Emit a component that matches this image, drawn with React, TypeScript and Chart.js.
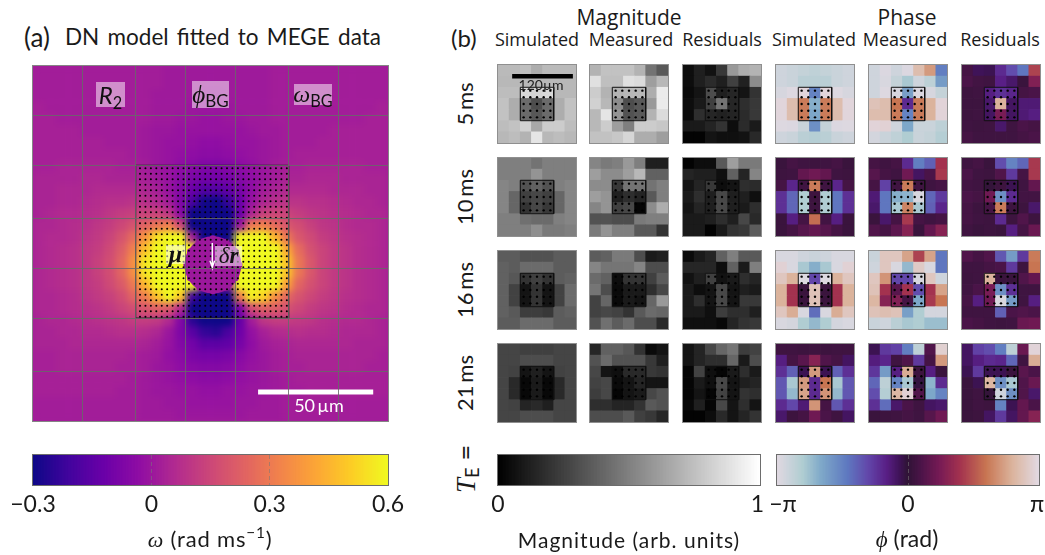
import React, { useEffect, useRef } from "react";
import { Chart, registerables } from "chart.js";

Chart.register(...registerables);

// ---------- colour maps ----------
const plasmaStops = ["#0d0887", "#41049d", "#6a00a8", "#8f0da4", "#b12a90", "#cc4778", "#e16462", "#f2844b", "#fca636", "#fcce25", "#f0f921"];
const phaseStops: [number, string][] = [
  [0, "#e2d9e2"], [0.1, "#b0cdd2"], [0.17, "#7fa9c9"], [0.27, "#5f79c0"], [0.35, "#6247aa"], [0.42, "#591f86"],
  [0.47, "#3f1358"], [0.5, "#2f1436"], [0.55, "#4a1448"], [0.62, "#751a55"], [0.7, "#a3324f"], [0.8, "#c87552"], [0.9, "#dbb39c"], [1, "#e2d9e2"],
];
const hex = (h: string) => [parseInt(h.slice(1, 3), 16), parseInt(h.slice(3, 5), 16), parseInt(h.slice(5, 7), 16)];
const mix = (a: string, b: string, f: number) => {
  const A = hex(a), B = hex(b);
  return `rgb(${A.map((c, i) => Math.round(c + (B[i] - c) * f)).join(",")})`;
};
const plasma = (v: number) => {
  const t = Math.max(0, Math.min(1, (v + 0.3) / 0.9)) * 10;
  const i = Math.min(9, Math.floor(t));
  return mix(plasmaStops[i], plasmaStops[i + 1], t - i);
};
const phaseColor = (v: number) => {
  const t = Math.max(0, Math.min(1, (v + 100) / 200));
  for (let i = 0; i < phaseStops.length - 1; i++) {
    if (t <= phaseStops[i + 1][0]) return mix(phaseStops[i][1], phaseStops[i + 1][1], (t - phaseStops[i][0]) / (phaseStops[i + 1][0] - phaseStops[i][0]));
  }
  return phaseStops[13][1];
};
const greyColor = (v: number) => { const g = Math.round(v * 2.55); return `rgb(${g},${g},${g})`; };
const omegaColor = (v: number) => plasma(v / 100);

// ---------- panel (a): omega field, in hundredths of rad/ms ----------
const omegaField = [
  [2,2,2,2,2,2,2,2,2,2,2,1,1,1,1,1,1,1,1,1,2,2,2,2,2,2,2,2,2,2],
  [2,2,2,2,2,2,2,2,2,2,2,1,1,1,1,1,1,1,1,1,2,2,2,2,2,2,2,2,2,2],
  [2,2,2,2,2,2,2,2,2,2,1,1,1,1,0,0,1,1,1,1,2,2,2,2,2,2,2,2,2,2],
  [3,2,2,2,2,2,2,2,2,2,1,1,1,0,0,0,0,1,1,1,2,2,2,2,2,2,2,2,2,3],
  [3,3,2,2,2,2,2,2,2,2,1,1,0,0,-1,-1,0,0,1,1,2,2,2,2,2,2,2,2,3,3],
  [3,3,3,3,2,2,2,2,2,1,0,0,-1,-1,-1,-1,-1,-1,0,1,1,2,2,2,2,3,3,3,3,3],
  [3,3,3,3,3,3,2,2,2,1,0,-1,-1,-2,-3,-3,-2,-1,-1,0,1,2,2,2,3,3,3,3,3,3],
  [3,3,3,3,3,3,3,3,2,1,0,-1,-2,-3,-4,-4,-3,-2,-1,0,1,2,3,3,3,3,3,3,3,3],
  [3,3,4,4,4,4,4,3,3,2,0,-1,-3,-5,-7,-7,-6,-4,-2,0,2,3,3,4,4,4,4,4,3,3],
  [4,4,4,4,5,5,4,4,4,3,1,-1,-5,-8,-10,-10,-9,-6,-3,0,2,4,4,5,5,5,4,4,4,4],
  [4,4,5,5,5,6,6,6,6,5,3,-1,-6,-12,-17,-17,-14,-9,-3,2,4,6,6,6,6,5,5,5,4,4],
  [4,4,5,5,6,7,8,8,9,8,6,2,-7,-19,-29,-30,-23,-12,-1,5,8,9,9,8,8,7,6,5,5,4],
  [4,5,6,6,7,8,10,12,13,14,14,10,-4,-30,-30,-30,-30,-12,5,13,15,14,12,10,9,8,7,6,5,5],
  [5,5,6,7,8,10,12,15,19,24,29,32,16,-30,-30,-30,-30,0,30,32,26,20,17,13,10,9,7,6,6,5],
  [5,6,6,7,9,11,14,19,26,38,55,60,60,2,-30,-30,-30,60,60,60,45,29,20,16,12,10,8,7,6,5],
  [5,6,7,8,10,12,16,22,32,48,60,60,60,60,2,2,2,60,60,60,60,42,26,18,14,11,9,7,6,5],
  [5,6,7,8,10,13,17,24,36,56,60,60,60,60,2,2,2,60,60,60,60,48,29,20,14,11,9,7,6,5],
  [5,6,7,8,10,13,17,24,36,56,60,60,60,60,2,2,2,60,60,60,60,48,29,20,14,11,9,7,6,5],
  [5,6,7,8,10,12,16,21,30,46,60,60,60,60,2,2,2,60,60,60,60,40,24,18,14,11,9,7,6,5],
  [5,5,6,7,9,11,13,17,24,32,48,60,50,-21,-30,-30,-30,32,58,52,36,25,19,15,12,10,8,7,6,5],
  [5,5,6,7,8,9,11,14,17,20,23,21,6,-30,-30,-30,-30,-8,17,23,22,18,15,12,10,9,7,6,5,5],
  [4,5,5,6,7,8,9,10,12,12,11,6,-6,-25,-30,-30,-30,-13,2,10,12,12,11,10,8,7,6,6,5,4],
  [4,4,5,5,6,6,7,8,8,7,5,0,-7,-16,-23,-25,-19,-11,-2,3,6,7,8,7,7,6,5,5,5,4],
  [4,4,4,5,5,5,5,5,5,4,2,-1,-6,-10,-15,-15,-14,-9,-3,1,3,4,5,5,5,5,5,4,4,4],
  [3,3,4,4,4,4,4,4,3,2,1,-2,-4,-8,-9,-9,-8,-5,-2,0,2,3,4,4,4,4,4,4,4,3],
  [3,3,4,4,4,4,4,3,3,2,0,-1,-3,-5,-6,-6,-5,-3,-1,0,2,3,3,4,4,4,4,4,3,3],
  [3,3,3,3,3,3,3,3,2,1,0,-1,-2,-3,-4,-4,-3,-2,-1,0,1,2,3,3,3,3,3,3,3,3],
  [3,3,3,3,3,3,3,2,2,1,0,0,-1,-1,-2,-2,-1,-1,0,0,1,2,2,3,3,3,3,3,3,3],
  [2,2,2,2,2,2,2,2,2,1,1,0,0,-1,-1,-1,-1,0,0,1,1,2,2,2,2,2,2,2,2,2],
  [2,2,2,2,2,2,2,2,2,1,1,1,0,0,0,0,0,0,1,1,1,2,2,2,2,2,2,2,2,2],
];
const gridTicksX = [4.2, 8.68, 12.9, 17.1, 21.6, 25.8];
const gridTicksY = [4.2, 8.39, 12.9, 17.1, 21.3, 25.8];
const fovX = [8.68, 21.6];
const fovY = [8.39, 21.3];
const sampleXFirst = 9.04, sampleXLast = 21.45, sampleYFirst = 8.65, sampleYLast = 21.2, sampleCount = 28;
const diskCentre = { x: 15.2, y: 16.8 };
const diskRim = [
  { x: 17.4, y: 16.8 }, { x: 17.1, y: 15.7 }, { x: 16.3, y: 14.9 }, { x: 15.2, y: 14.6 }, { x: 14.1, y: 14.9 }, { x: 13.3, y: 15.7 },
  { x: 13.0, y: 16.8 }, { x: 13.3, y: 17.9 }, { x: 14.1, y: 18.7 }, { x: 15.2, y: 19.0 }, { x: 16.3, y: 18.7 }, { x: 17.1, y: 17.9 },
];
const arrowPath = [{ x: 15.15, y: 14.95 }, { x: 15.15, y: 17.0 }, { x: 14.95, y: 16.45 }, { x: 15.15, y: 17.0 }, { x: 15.35, y: 16.45 }];
const scaleBarA = [{ x: 19.02, y: 27.55 }, { x: 28.75, y: 27.55 }];

// ---------- panel (b): magnitude, in hundredths ----------
const magSim5 = [[73,73,75,68,73,73,73],[72,72,72,72,72,72,72],[74,74,85,83,85,72,72],[76,68,42,30,42,68,76],[76,68,42,34,42,68,76],[74,76,82,66,80,80,74],[72,74,70,90,72,74,72]];
const magMea5 = [[70,76,76,76,70,45,35],[88,75,75,88,86,62,72],[80,70,70,72,72,68,92],[82,72,55,30,35,60,92],[72,90,58,32,35,70,86],[72,80,62,50,80,80,78],[76,76,78,84,68,68,62]];
const magRes5 = [[5,12,7,22,60,68,70],[5,12,17,12,25,13,55],[4,8,30,12,15,8,20],[5,10,25,45,15,18,22],[4,18,15,13,14,17,22],[10,10,14,20,5,17,10],[1,1,8,6,6,7,16]];
const magSim10 = [[50,50,50,45,50,50,50],[50,50,50,58,50,50,50],[52,50,32,38,32,50,52],[52,40,25,28,25,40,52],[52,40,20,28,22,40,52],[50,50,44,42,42,50,52],[50,50,50,56,48,48,50]];
const magMea10 = [[52,48,50,60,50,12,12],[62,55,55,62,72,38,38],[55,55,22,45,45,45,50],[62,58,12,18,14,35,50],[52,58,25,28,2,55,68],[32,32,30,30,48,50,50],[48,58,50,50,35,35,20]];
const magRes10 = [[1,5,5,35,62,48,48],[14,12,12,6,38,14,52],[8,14,22,5,8,18,17],[10,18,12,28,12,12,6],[8,14,12,28,12,10,18],[10,10,12,18,12,28,16],[10,10,1,10,20,22,36]];
const magSim16 = [[36,36,32,32,32,36,36],[38,36,42,42,42,36,36],[38,34,20,25,20,36,38],[38,26,8,20,8,26,42],[38,26,8,20,8,26,42],[38,35,24,24,22,36,38],[36,36,42,42,42,36,36]];
const magMea16 = [[36,38,48,48,30,10,12],[52,46,46,46,52,30,30],[42,38,5,20,20,25,36],[46,30,4,10,10,18,28],[26,40,4,10,8,40,60],[26,28,26,20,35,42,40],[32,44,36,42,30,30,16]];
const magRes16 = [[4,10,14,38,50,35,35],[15,15,15,5,38,10,50],[7,12,25,7,10,18,14],[10,5,8,28,8,12,10],[10,18,8,28,8,22,22],[10,10,6,24,18,18,12],[6,6,6,3,14,20,22]];
const magSim21 = [[27,27,25,25,25,27,27],[27,27,30,30,30,27,27],[27,26,8,12,8,26,27],[27,16,3,10,3,16,27],[27,16,3,10,3,16,27],[27,26,14,16,12,27,27],[27,27,30,30,30,27,27]];
const magMea21 = [[15,38,38,34,20,4,8],[32,42,32,32,32,22,12],[28,8,6,16,16,22,20],[26,28,4,8,14,8,8],[24,28,2,8,10,28,32],[18,18,14,14,20,35,32],[30,30,30,35,25,22,15]];
const magRes21 = [[8,14,28,40,46,24,26],[8,14,18,18,40,10,30],[2,26,6,2,10,18,10],[2,10,6,28,8,12,14],[2,8,2,26,8,20,18],[3,12,2,28,8,18,8],[1,1,5,16,8,14,20]];

// ---------- panel (b): phase, in hundredths of pi ----------
const phaSim5 = [[-92,-90,-88,-86,-88,-90,-92],[-92,-90,-84,-84,-84,-90,-92],[-95,-98,98,-50,98,-98,-95],[98,85,62,-68,62,85,98],[98,85,62,-65,62,85,98],[-98,-97,-90,-55,-88,-97,-98],[-92,-90,-84,-82,-84,-90,-92]];
const phaMea5 = [[-92,-97,-92,-97,85,72,-48],[-92,-96,-88,-78,-92,-85,-60],[-92,-98,-95,-62,-97,-95,-88],[88,85,60,-20,62,80,97],[85,85,62,-50,62,80,97],[97,96,-92,-65,-90,-90,-85],[-94,-90,-86,-80,-90,-88,-82]];
const phaRes5 = [[8,-6,-5,-20,-32,-45,45],[10,7,6,-16,-10,4,28],[5,6,-15,-22,-18,8,10],[5,5,-10,80,-8,-12,-12],[5,6,-8,25,-8,-12,-15],[6,5,6,-10,6,10,8],[8,6,6,6,6,8,10]];
const phaSim10 = [[4,8,6,5,6,8,4],[5,6,18,22,18,6,5],[8,-18,6,62,6,-18,8],[-22,-40,-80,5,-80,-45,-22],[-22,-40,-80,5,-80,-45,-22],[4,-15,8,58,7,-15,4],[4,8,14,18,14,8,4]];
const phaMea10 = [[8,6,8,-20,-48,-38,40],[14,8,6,22,-8,10,42],[8,-28,6,62,6,6,8],[-12,-45,-68,-70,-96,-40,-25],[-10,-45,-78,65,-78,-38,-18],[4,-10,8,42,8,6,8],[12,8,16,30,4,18,30]];
const phaRes10 = [[6,8,4,-32,-50,-40,42],[10,6,5,12,-25,8,42],[7,6,2,5,-5,6,18],[10,8,22,-55,-20,7,7],[8,5,8,62,5,5,-10],[8,6,5,-20,5,12,5],[6,4,5,4,-15,8,20]];
const phaSim16 = [[-96,-96,-92,-90,-92,-96,-96],[96,-96,-78,-68,-78,-96,96],[90,80,-98,-30,-98,80,90],[80,40,4,88,4,40,80],[80,40,4,88,4,40,80],[90,78,-96,-42,-96,78,90],[-96,-94,-80,-72,-80,-94,-96]];
const phaMea16 = [[-90,90,90,75,45,75,-45],[-92,90,-96,-72,92,-96,-45],[90,70,-30,-30,-95,90,-92],[88,40,15,40,-32,40,75],[82,30,28,8,-65,42,60],[88,86,88,-62,-80,-94,-94],[-90,-92,-84,-78,-80,-74,-74]];
const phaRes16 = [[12,8,12,-35,-60,-25,62],[6,6,8,10,-25,5,60],[5,6,80,4,4,12,18],[6,10,25,-55,-22,6,6],[8,-15,22,-96,-60,6,-15],[6,6,6,-38,10,12,10],[10,8,6,5,6,20,22]];
const phaSim21 = [[6,6,5,5,5,6,6],[-15,8,15,30,12,8,-8],[-22,-38,-5,72,-5,-38,-22],[-35,-78,72,-20,60,-78,-35],[-35,-72,75,-20,70,-72,-35],[-20,-30,-12,70,8,-35,-22],[-10,5,8,22,10,6,-8]];
const phaMea21 = [[-5,-25,-28,-48,-85,12,95],[-14,-18,6,12,-25,8,72],[-24,-60,-15,78,5,-15,4],[-40,-85,-50,-78,-2,-70,-20],[-32,-82,82,96,12,-65,-50],[-22,-42,-10,10,6,-8,-10],[4,5,6,8,6,14,22]];
const phaRes21 = [[-8,-28,-32,-48,-85,20,97],[-8,-15,-20,-18,-40,6,78],[-5,-25,-5,-5,4,15,10],[4,-5,82,-55,-78,12,20],[4,6,2,-92,-55,12,-10],[4,6,5,-50,-5,18,10],[4,5,-8,-25,-8,18,30]];

const panelLefts = [498, 590, 683, 776, 869, 962];
const panelTops = [65, 158, 251, 344];
const panelSize = 78;
const panelRows = [
  [magSim5, magMea5, magRes5, phaSim5, phaMea5, phaRes5],
  [magSim10, magMea10, magRes10, phaSim10, phaMea10, phaRes10],
  [magSim16, magMea16, magRes16, phaSim16, phaMea16, phaRes16],
  [magSim21, magMea21, magRes21, phaSim21, phaMea21, phaRes21],
];
const echoLabels = ["5 ms", "10 ms", "16 ms", "21 ms"];
const columnLabels = ["Simulated", "Measured", "Residuals", "Simulated", "Measured", "Residuals"];
const columnCentres = [537, 631, 722, 814, 905, 1000];
const boxPath = [{ x: 2, y: 2 }, { x: 5, y: 2 }, { x: 5, y: 5 }, { x: 2, y: 5 }, { x: 2, y: 2 }];
const smallSamples = [2.3, 2.9, 3.5, 4.1, 4.7];
const scaleBarB = [{ x: 1.27, y: 1.0 }, { x: 6.72, y: 1.0 }];

const omegaTicks = [-0.3, 0, 0.3, 0.6];
const omegaTickText = ["\u22120.3", "0", "0.3", "0.6"];
const magTicks = [0, 0.99];
const magTickText = ["0", "1"];
const phaseTicks = [-0.955, 0, 0.985];
const phaseTickText = ["\u2212\u03c0", "0", "\u03c0"];

const SANS = "Lato, 'Open Sans', sans-serif";
const HEAD = "'Open Sans', 'Noto Sans', sans-serif";
const MATH = "'Liberation Serif', serif";

// ---------- chart configs ----------
const noChrome = { legend: { display: false }, tooltip: { enabled: false } };

function hiddenScale(max: number, reverse = false) {
  return { type: "linear", min: 0, max, reverse, display: false };
}

function heatDataset(rows: number[][], color: (v: number) => string, side: number, order: number) {
  const cells = rows.flatMap((row, j) => row.map((v, i) => ({ x: i + 0.5, y: j + 0.5, v })));
  return {
    data: cells.map(({ x, y }) => ({ x, y })),
    pointStyle: "rect",
    pointRadius: (side + 0.7) / Math.SQRT2,
    pointBackgroundColor: cells.map((c) => color(c.v)),
    pointBorderWidth: 0,
    order,
  };
}

const lineDataset = (data: { x: number; y: number }[], color: string, width: number, order: number) => ({
  data, showLine: true, pointRadius: 0, borderColor: color, borderWidth: width, fill: false, tension: 0, order,
});

function dotsDataset(xs: number[], ys: number[], radius: number, order: number) {
  return {
    data: ys.flatMap((y) => xs.map((x) => ({ x, y }))),
    pointRadius: radius, pointBackgroundColor: "#000", pointBorderWidth: 0, order,
  };
}

const baseOptions = (scales: any) => ({
  responsive: false, animation: false, events: [], maintainAspectRatio: false,
  layout: { autoPadding: false, padding: 0 }, plugins: noChrome, scales,
});

function fieldConfig() {
  return { type: "scatter", data: { datasets: [heatDataset(omegaField, omegaColor, 355 / 30, 1)] }, options: baseOptions({ x: hiddenScale(30), y: hiddenScale(30, true) }) };
}

const gridScale = (ticks: number[], reverse: boolean) => ({
  type: "linear", min: 0, max: 30, reverse,
  afterBuildTicks: (s: any) => { s.ticks = ticks.map((value) => ({ value })); },
  afterFit: (s: any) => { if (s.isHorizontal()) s.height = 0; else s.width = 0; },
  ticks: { display: false },
  border: { display: false },
  grid: { color: "rgba(105,105,105,0.85)", lineWidth: 1, drawTicks: false, z: 1 },
});

function overlayConfig() {
  const step = (a: number, b: number) => Array.from({ length: sampleCount }, (_, i) => a + ((b - a) * i) / (sampleCount - 1));
  const [x0, x1] = fovX, [y0, y1] = fovY;
  return {
    type: "scatter",
    data: {
      datasets: [
        lineDataset(scaleBarA, "#fff", 5, 1),
        lineDataset(arrowPath, "#fff", 1.4, 2),
        dotsDataset(step(sampleXFirst, sampleXLast), step(sampleYFirst, sampleYLast), 1, 3),
        lineDataset([{ x: x0, y: y0 }, { x: x1, y: y0 }, { x: x1, y: y1 }, { x: x0, y: y1 }, { x: x0, y: y0 }], "#151515", 1, 4),
        { data: [diskCentre], pointRadius: 28.5, pointBackgroundColor: plasma(0.005), pointBorderWidth: 0, order: 5 },
        { data: diskRim, pointRadius: 3.5, pointBackgroundColor: plasma(0.005), pointBorderWidth: 0, order: 6 },
      ],
    },
    options: baseOptions({ x: gridScale(gridTicksX, false), y: gridScale(gridTicksY, true) }),
  };
}

function smallConfig(rows: number[][], color: (v: number) => string, withBar: boolean) {
  const datasets: any[] = [
    heatDataset(rows, color, panelSize / 7, 9),
    lineDataset(boxPath, "#111", 1, 3),
    dotsDataset(smallSamples, smallSamples, 1.2, 2),
  ];
  if (withBar) datasets.push(lineDataset(scaleBarB, "#000", 4.5, 1));
  return { type: "scatter", data: { datasets }, options: baseOptions({ x: hiddenScale(7), y: hiddenScale(7, true) }) };
}

const BAR_PAD = 30;
const BAR_H = 30;
function colorbarConfig(min: number, max: number, widthPx: number, color: (v: number) => string, ticks: number[], text: string[], inner: number[]) {
  const count = Math.round(widthPx / 1.5) + 1;
  const levels = Array.from({ length: count }, (_, i) => min + ((max - min) * i) / (count - 1));
  return {
    type: "bar",
    data: { datasets: [{ data: levels.map((x) => ({ x, y: 1 })), backgroundColor: levels.map(color), barThickness: 2.2, borderWidth: 0 }] },
    options: {
      responsive: false, animation: false, events: [], maintainAspectRatio: false,
      layout: { autoPadding: false, padding: { left: BAR_PAD, right: BAR_PAD, top: 0, bottom: 0 } },
      plugins: noChrome,
      scales: {
        x: {
          type: "linear", min, max, offset: false,
          afterBuildTicks: (s: any) => { s.ticks = ticks.map((value) => ({ value })); },
          afterFit: (s: any) => { s.height = 40; },
          border: { display: false, dash: [4, 3] },
          grid: {
            offset: false, drawTicks: false, z: 1, lineWidth: 1,
            color: (c: any) => (inner.includes(c.tick?.value) ? "rgba(120,120,120,0.55)" : "rgba(0,0,0,0)"),
          },
          ticks: {
            autoSkip: false, maxRotation: 0, padding: 6, color: "#1a1a1a",
            font: { family: "Lato", size: 23 },
            callback: (v: number) => text[ticks.indexOf(v)] ?? "",
          },
        },
        y: { type: "linear", min: 0, max: 1, display: false },
      },
    },
  };
}

// ---------- React pieces ----------
function Plot({ config, left, top, width, height, blur = 0 }: any) {
  const ref = useRef<HTMLCanvasElement>(null);
  useEffect(() => {
    const chart = new Chart(ref.current as any, config());
    return () => chart.destroy();
  }, []);
  return (
    <canvas ref={ref} width={width} height={height}
      style={{ position: "absolute", left, top, width, height, filter: blur ? `blur(${blur}px)` : undefined }} />
  );
}

function T({ x, y, size, font = SANS, color = "#1a1a1a", left = false, rot = 0, spacing = 0, children, style }: any) {
  return (
    <div style={{
      position: "absolute", left: x, top: y, fontSize: size, fontFamily: font, color, letterSpacing: spacing,
      whiteSpace: "nowrap", lineHeight: 1, transform: `translate(${left ? "0" : "-50%"},-50%) rotate(${rot}deg)`, ...style,
    }}>{children}</div>
  );
}

function Box({ x0, x1, y0, y1, bg = "rgba(255,255,255,0.5)", children }: any) {
  return (
    <div style={{ position: "absolute", left: x0, top: y0, width: x1 - x0, height: y1 - y0, background: bg,
      display: "flex", alignItems: "center", justifyContent: "center", color: "#111", whiteSpace: "nowrap" }}>{children}</div>
  );
}

const Frame = ({ left, top, w, h, color = "#858585" }: any) => (
  <div style={{ position: "absolute", left: left - 1, top: top - 1, width: w, height: h, border: `1px solid ${color}`, pointerEvents: "none" }} />
);

const sub = { fontSize: "0.68em", fontFamily: SANS, fontStyle: "normal", position: "relative", top: "0.28em" } as const;

export default function App() {
  return (
    <div style={{ position: "fixed", left: 0, top: 0, width: 1045, height: 555, background: "#fff", overflow: "hidden", filter: "blur(0.35px)" }}>
      <T x={24} y={37} size={26} left>(a)</T>
      <T x={65} y={37} size={22.5} left style={{ wordSpacing: 2.5 }}>DN model fitted to MEGE data</T>

      <div style={{ position: "absolute", left: 33, top: 66, width: 355, height: 355, overflow: "hidden", background: plasma(0.02) }}>
        <Plot config={fieldConfig} left={0} top={0} width={355} height={355} blur={3} />
        <Plot config={overlayConfig} left={0} top={0} width={355} height={355} blur={0.4} />
      </div>
      <Frame left={33} top={66} w={355} h={355} />
      <Box x0={96} x1={125} y0={82} y1={107}><span style={{ fontFamily: SANS, fontStyle: "italic", fontSize: 24 }}>R<span style={sub}>2</span></span></Box>
      <Box x0={192} x1={229} y0={81} y1={108}><span style={{ fontFamily: MATH, fontStyle: "italic", fontSize: 25 }}>{"\u03d5"}<span style={sub}>BG</span></span></Box>
      <Box x0={294} x1={332} y0={84} y1={105}><span style={{ fontFamily: MATH, fontStyle: "italic", fontSize: 24 }}>{"\u03c9"}<span style={sub}>BG</span></span></Box>
      <Box x0={166} x1={185} y0={245} y1={264}><span style={{ fontFamily: MATH, fontStyle: "italic", fontWeight: 700, fontSize: 24 }}>{"\u03bc"}</span></Box>
      <Box x0={215} x1={242} y0={246} y1={266}><span style={{ fontFamily: MATH, fontSize: 23 }}><i>{"\u03b4"}</i><b><i>r</i></b></span></Box>
      <T x={319} y={405} size={18} color="#fff">{"50\u2009\u00b5m"}</T>

      <T x={451} y={38} size={24} left>(b)</T>
      <T x={629} y={17} size={21} font={HEAD}>Magnitude</T>
      <T x={907} y={17} size={21} font={HEAD}>Phase</T>
      {columnLabels.map((label, i) => (
        <T key={i} x={columnCentres[i]} y={39} size={18} font={HEAD}>{label}</T>
      ))}
      {echoLabels.map((label, r) => (
        <T key={label} x={465} y={panelTops[r] + 39} size={22} rot={-90}>{label.replace(" ", "\u2009")}</T>
      ))}

      {panelRows.map((row, r) => row.map((values, c) => (
        <React.Fragment key={`${r}-${c}`}>
          <Plot config={() => smallConfig(values, c < 3 ? greyColor : phaseColor, r === 0 && c === 0)}
            left={panelLefts[c]} top={panelTops[r]} width={panelSize} height={panelSize} blur={0.6} />
          <Frame left={panelLefts[c]} top={panelTops[r]} w={panelSize} h={panelSize} color="#8f8f8f" />
        </React.Fragment>
      )))}
      <T x={541} y={85} size={14} color="#222">{"120\u00b5m"}</T>

      <T x={465} y={469} size={27} rot={-90}><span style={{ fontFamily: MATH, fontStyle: "italic" }}>T</span><span style={{ ...sub, top: "0.22em" }}>E</span> =</T>

      <Plot config={() => colorbarConfig(-0.3, 0.6, 355, plasma, omegaTicks, omegaTickText, [0, 0.3])}
        left={33 - BAR_PAD} top={455} width={355 + 2 * BAR_PAD} height={BAR_H + 40} />
      <Frame left={33} top={455} w={355} h={BAR_H} color="#6d6d6d" />
      <Plot config={() => colorbarConfig(0, 1, 262, (v: number) => greyColor(v * 100), magTicks, magTickText, [])}
        left={498 - BAR_PAD} top={455} width={262 + 2 * BAR_PAD} height={BAR_H + 40} />
      <Frame left={498} top={455} w={262} h={BAR_H} color="#6d6d6d" />
      <Plot config={() => colorbarConfig(-1, 1, 262, (v: number) => phaseColor(v * 100), phaseTicks, phaseTickText, [0])}
        left={777 - BAR_PAD} top={455} width={262 + 2 * BAR_PAD} height={BAR_H + 40} />
      <Frame left={777} top={455} w={262} h={BAR_H} color="#6d6d6d" />

      <T x={210} y={539} size={22} spacing={0.8}><span style={{ fontFamily: MATH, fontStyle: "italic" }}>{"\u03c9"}</span> (rad ms<sup style={{ fontSize: "0.7em", lineHeight: 0 }}>{"\u22121"}</sup>)</T>
      <T x={629} y={539} size={21} spacing={1}>Magnitude (arb. units)</T>
      <T x={907} y={539} size={23}><span style={{ fontFamily: MATH, fontStyle: "italic" }}>{"\u03d5"}</span> (rad)</T>
    </div>
  );
}
